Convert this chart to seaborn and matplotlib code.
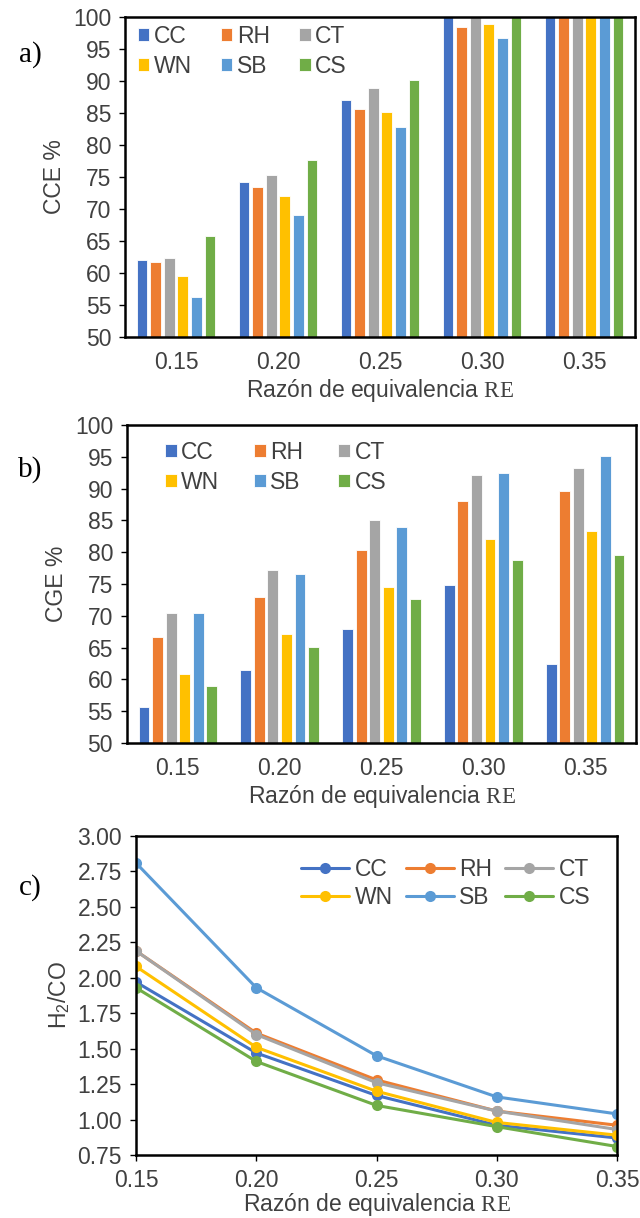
import matplotlib
matplotlib.use("Agg")
import matplotlib.pyplot as plt
import seaborn as sns
import pandas as pd
from matplotlib.ticker import FormatStrFormatter

# ---------------- data ----------------
re_labels = ["0.15", "0.20", "0.25", "0.30", "0.35"]
re_values = [0.15, 0.20, 0.25, 0.30, 0.35]
series = ["CC", "RH", "CT", "WN", "SB", "CS"]
colors = ["#4472C4", "#ED7D31", "#A5A5A5", "#FFC000", "#5B9BD5", "#70AD47"]

# a) CCE %
cce_CC = [62.0, 74.2, 87.0, 100.0, 100.0]
cce_RH = [61.7, 73.5, 85.7, 98.4, 100.0]
cce_CT = [62.3, 75.3, 88.9, 100.0, 100.0]
cce_WN = [59.5, 72.0, 85.2, 98.9, 100.0]
cce_SB = [56.3, 69.0, 82.8, 96.7, 100.0]
cce_CS = [65.8, 77.7, 90.2, 100.0, 100.0]

# b) CGE %
cge_CC = [55.6, 61.4, 67.9, 74.8, 62.4]
cge_RH = [66.7, 73.0, 80.3, 88.1, 89.6]
cge_CT = [70.5, 77.2, 85.1, 92.1, 93.3]
cge_WN = [60.9, 67.2, 74.5, 82.0, 83.3]
cge_SB = [70.5, 76.5, 84.0, 92.4, 95.1]
cge_CS = [58.9, 65.1, 72.7, 78.8, 79.5]

# c) H2/CO
h2co_CC = [1.97, 1.47, 1.17, 0.96, 0.87]
h2co_RH = [2.19, 1.61, 1.28, 1.06, 0.96]
h2co_CT = [2.19, 1.60, 1.26, 1.06, 0.93]
h2co_WN = [2.08, 1.51, 1.20, 0.98, 0.89]
h2co_SB = [2.81, 1.93, 1.45, 1.16, 1.04]
h2co_CS = [1.93, 1.41, 1.10, 0.95, 0.81]

cce = dict(zip(series, [cce_CC, cce_RH, cce_CT, cce_WN, cce_SB, cce_CS]))
cge = dict(zip(series, [cge_CC, cge_RH, cge_CT, cge_WN, cge_SB, cge_CS]))
h2co = dict(zip(series, [h2co_CC, h2co_RH, h2co_CT, h2co_WN, h2co_SB, h2co_CS]))


def long_df(d, xs, name):
    rows = []
    for s in series:
        for x, v in zip(xs, d[s]):
            rows.append({"RE": x, "Serie": s, name: v})
    return pd.DataFrame(rows)


df_a = long_df(cce, re_labels, "CCE")
df_b = long_df(cge, re_labels, "CGE")
df_c = long_df(h2co, re_values, "H2CO")
palette = dict(zip(series, colors))

# ---------------- style ----------------
sns.set_style("white")
plt.rcParams["font.family"] = ["Liberation Sans", "DejaVu Sans"]
plt.rcParams["mathtext.fontset"] = "custom"
plt.rcParams["mathtext.rm"] = "Liberation Serif"
plt.rcParams["mathtext.sf"] = "Liberation Sans"

TXT = "#404040"
FS = 16.5

fig = plt.figure(figsize=(6.4, 12.18), dpi=100)
ax_a = fig.add_axes([0.1953, 0.7233, 0.7969, 0.2627])
ax_b = fig.add_axes([0.1984, 0.3900, 0.7953, 0.2611])
ax_c = fig.add_axes([0.2125, 0.0517, 0.7516, 0.2619])

xlabel = r"Razón de equivalencia $\mathrm{RE}$"
order_idx = [0, 3, 1, 4, 2, 5]


def style_axes(ax):
    for sp in ax.spines.values():
        sp.set_visible(True)
        sp.set_color("black")
        sp.set_linewidth(1.8)
    ax.tick_params(axis="y", direction="out", length=4, width=1, color="black",
                   pad=6, labelsize=FS, labelcolor=TXT, left=True)


def bar_panel(ax, df, col, ylab, bbox, colsp):
    sns.barplot(data=df, x="RE", y=col, hue="Serie", order=re_labels,
                hue_order=series, palette=palette, saturation=1,
                width=0.8, gap=0.2, edgecolor="white", linewidth=0.6,
                errorbar=None, ax=ax)
    ax.set_ylim(50, 100)
    ax.set_yticks(range(50, 101, 5))
    style_axes(ax)
    ax.tick_params(axis="x", length=0, pad=10, labelsize=FS, labelcolor=TXT)
    ax.set_ylabel(ylab, fontsize=FS, color=TXT, labelpad=5)
    ax.set_xlabel(xlabel, fontsize=FS, color=TXT, labelpad=2)
    h, l = ax.get_legend_handles_labels()
    if ax.get_legend() is not None:
        ax.get_legend().remove()
    ax.legend([h[i] for i in order_idx], [l[i] for i in order_idx], ncol=3,
              loc="upper left", bbox_to_anchor=bbox, borderaxespad=0,
              borderpad=0, frameon=False, fontsize=FS, handlelength=0.5,
              handleheight=0.5, handletextpad=0.2, columnspacing=colsp,
              labelspacing=0.3, labelcolor=TXT)


bar_panel(ax_a, df_a, "CCE", "CCE %", (0.025, 0.975), 1.27)
bar_panel(ax_b, df_b, "CGE", "CGE %", (0.075, 0.95), 1.53)

# ---------------- c) lines ----------------
sns.lineplot(data=df_c, x="RE", y="H2CO", hue="Serie", hue_order=series,
             palette=palette, marker="o", markersize=8, markeredgewidth=0,
             linewidth=2.2, legend=False, ax=ax_c)
ax_c.set_xlim(0.15, 0.35)
ax_c.set_ylim(0.75, 3.00)
ax_c.set_xticks(re_values)
ax_c.set_xticklabels(re_labels)
ax_c.set_yticks([0.75 + 0.25 * i for i in range(10)])
ax_c.yaxis.set_major_formatter(FormatStrFormatter("%.2f"))
style_axes(ax_c)
ax_c.tick_params(axis="x", direction="out", length=4, width=1, color="black",
                 pad=6, labelsize=FS, labelcolor=TXT, bottom=True)
ax_c.set_ylabel(r"H$_{\mathsf{2}}$/CO", fontsize=FS, color=TXT, labelpad=4)
ax_c.set_xlabel(xlabel, fontsize=FS, color=TXT, labelpad=-1)
lines = ax_c.get_lines()[:len(series)]
ax_c.legend([lines[i] for i in order_idx], [series[i] for i in order_idx],
            ncol=3, loc="upper right", bbox_to_anchor=(0.945, 0.93),
            borderaxespad=0, borderpad=0, frameon=False, fontsize=FS,
            handlelength=2.1, handletextpad=0.25, columnspacing=0.55,
            labelspacing=0.2, labelcolor=TXT)

# panel letters
for txt, y in [("a)", 55), ("b)", 470), ("c)", 888)]:
    fig.text(30 / 640, 1 - y / 1218, txt, fontsize=21, ha="center", va="center",
             family=["Liberation Serif", "DejaVu Serif"], color="black")

fig.savefig("out.png", dpi=100)
